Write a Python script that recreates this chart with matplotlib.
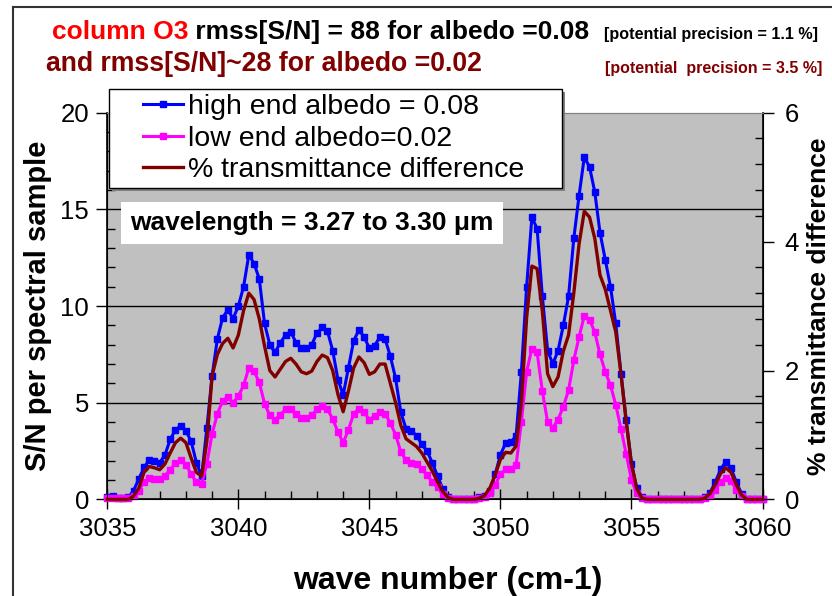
import numpy as np
import matplotlib.pyplot as plt
from matplotlib.lines import Line2D
from matplotlib.patches import Rectangle
from matplotlib.ticker import MultipleLocator

plt.rcParams['font.family'] = ['Liberation Sans', 'DejaVu Sans']

# wave number grid, 0.2 cm-1 steps from 3035 to 3060
wavenum = np.round(np.arange(3035.0, 3060.01, 0.2), 2)

# S/N per spectral sample, albedo = 0.08
sn_high = [
    0.10, 0.15, 0.05, 0.05, 0.10, 0.45, 1.05, 1.65, 2.04, 2.00,
    1.90, 2.30, 3.10, 3.60, 3.80, 3.55, 3.00, 1.90, 1.20, 3.70,
    6.40, 8.30, 9.40, 9.80, 9.35, 10.00, 11.00, 12.65, 12.20, 11.40,
    9.10, 8.00, 7.60, 8.10, 8.50, 8.68, 8.10, 7.82, 7.82, 8.00,
    8.60, 8.90, 8.70, 7.70, 6.20, 5.40, 6.80, 8.20, 8.76, 8.40,
    7.82, 7.95, 8.40, 8.30, 7.40, 6.26, 4.50, 3.65, 3.55, 3.30,
    2.85, 2.50, 1.90, 1.20, 0.55, 0.10, 0.00, 0.00, 0.00, 0.00,
    0.00, 0.10, 0.20, 0.45, 1.30, 2.30, 2.92, 2.95, 3.30, 6.60,
    11.00, 14.60, 14.00, 10.50, 7.70, 7.00, 7.70, 9.00, 10.50, 13.50,
    15.70, 17.70, 17.20, 15.90, 13.80, 12.40, 11.00, 9.10, 6.50, 4.10,
    1.85, 0.60, 0.10, 0.00, 0.00, 0.00, 0.00, 0.00, 0.00, 0.00,
    0.00, 0.00, 0.00, 0.00, 0.10, 0.35, 0.90, 1.55, 1.95, 1.60,
    0.90, 0.30, 0.00, 0.00, 0.00, 0.00,
]

# S/N per spectral sample, albedo = 0.02
sn_low = [
    0.05, 0.05, 0.05, 0.05, 0.05, 0.15, 0.45, 0.90, 1.09, 1.04,
    1.05, 1.22, 1.53, 1.90, 2.03, 1.80, 1.30, 0.88, 0.78, 1.85,
    3.40, 4.42, 5.10, 5.30, 5.00, 5.33, 5.90, 6.80, 6.62, 6.05,
    4.95, 4.35, 4.10, 4.38, 4.66, 4.70, 4.40, 4.20, 4.20, 4.35,
    4.65, 4.84, 4.67, 4.15, 3.50, 2.93, 3.60, 4.42, 4.70, 4.50,
    4.12, 4.30, 4.50, 4.42, 3.95, 3.35, 2.45, 2.02, 1.90, 1.82,
    1.55, 1.27, 0.90, 0.62, 0.28, 0.05, 0.00, 0.00, 0.00, 0.00,
    0.00, 0.05, 0.12, 0.35, 0.75, 1.30, 1.56, 1.56, 1.80, 4.00,
    6.60, 7.80, 7.60, 5.60, 4.00, 3.70, 4.13, 4.80, 5.65, 7.20,
    8.40, 9.50, 9.30, 8.65, 7.50, 6.60, 5.90, 4.90, 3.65, 2.35,
    1.00, 0.31, 0.05, 0.00, 0.00, 0.00, 0.00, 0.00, 0.00, 0.00,
    0.00, 0.00, 0.00, 0.00, 0.05, 0.20, 0.50, 0.90, 1.10, 0.95,
    0.50, 0.15, 0.00, 0.00, 0.00, 0.00,
]

# % transmittance difference (right axis)
trans_diff = [
    0.00, 0.00, 0.00, 0.00, 0.00, 0.05, 0.17, 0.42, 0.51, 0.49,
    0.46, 0.55, 0.72, 0.88, 0.95, 0.88, 0.64, 0.42, 0.36, 0.90,
    1.92, 2.25, 2.42, 2.50, 2.35, 2.55, 2.93, 3.20, 3.10, 2.80,
    2.38, 2.00, 1.90, 2.02, 2.14, 2.19, 2.10, 1.98, 1.95, 1.99,
    2.14, 2.24, 2.20, 2.00, 1.63, 1.36, 1.68, 2.04, 2.21, 2.12,
    1.94, 1.98, 2.10, 2.10, 1.80, 1.50, 1.15, 0.94, 0.88, 0.82,
    0.72, 0.58, 0.44, 0.27, 0.12, 0.03, 0.00, 0.00, 0.00, 0.00,
    0.00, 0.02, 0.06, 0.18, 0.38, 0.62, 0.73, 0.72, 0.83, 1.50,
    2.82, 3.62, 3.58, 2.92, 1.95, 1.75, 1.90, 2.30, 2.55, 3.20,
    3.96, 4.47, 4.38, 4.05, 3.48, 3.26, 2.93, 2.60, 1.95, 1.20,
    0.55, 0.17, 0.02, 0.00, 0.00, 0.00, 0.00, 0.00, 0.00, 0.00,
    0.00, 0.00, 0.00, 0.00, 0.02, 0.09, 0.23, 0.40, 0.49, 0.42,
    0.23, 0.07, 0.00, 0.00, 0.00, 0.00,
]

labels = ['high end albedo = 0.08', 'low end albedo=0.02',
          '% transmittance difference']

W, H = 832, 596
fig = plt.figure(figsize=(W / 100, H / 100), dpi=100)
fig.patch.set_facecolor('white')


def fx(px):
    return px / W


def fy(py):
    return 1 - py / H


ax = fig.add_axes([fx(107.3), fy(499.4), fx(762.5) - fx(107.3), fy(112.7) - fy(499.4)])
ax.set_facecolor('#C0C0C0')

l1, = ax.plot(wavenum, sn_high, color='#0000FF', lw=2.2, marker='s', ms=4.5,
              mec='#0000FF', mfc='#0000FF', clip_on=False, zorder=3)
l2, = ax.plot(wavenum, sn_low, color='#FF00FF', lw=2.2, marker='s', ms=4.5,
              mec='#FF00FF', mfc='#FF00FF', clip_on=False, zorder=4)

ax.set_xlim(3035, 3060)
ax.set_ylim(0, 20)
ax.xaxis.set_major_locator(MultipleLocator(5))
ax.xaxis.set_minor_locator(MultipleLocator(1))
ax.yaxis.set_major_locator(MultipleLocator(5))
ax.yaxis.set_minor_locator(MultipleLocator(1))
for v in (5, 10, 15):
    ax.axhline(v, color='black', lw=1, zorder=1)

ax.tick_params(axis='x', which='major', direction='inout', length=14, width=1,
               labelsize=18.5, pad=6)
ax.tick_params(axis='x', which='minor', direction='in', length=6, width=1)
ax.tick_params(axis='y', which='major', direction='out', length=8, width=1,
               labelsize=18.5, pad=5)
ax.tick_params(axis='y', which='minor', direction='in', length=6, width=1)
for s in ('left', 'bottom'):
    ax.spines[s].set_color('black')
    ax.spines[s].set_linewidth(1.2)
ax.spines['top'].set_color('#808080')
ax.spines['right'].set_color('black')

ax.set_xlabel('wave number (cm-1)', fontsize=23, fontweight='bold')
ax.xaxis.set_label_coords(0.519, -0.172)
ax.set_ylabel('S/N per spectral sample', fontsize=21, fontweight='bold', labelpad=6)

ax2 = ax.twinx()
l3, = ax2.plot(wavenum, trans_diff, color='#800000', lw=2.4, clip_on=False, zorder=5)
ax2.set_ylim(0, 6)
ax2.yaxis.set_major_locator(MultipleLocator(2))
ax2.yaxis.set_minor_locator(MultipleLocator(0.4))
ax2.tick_params(axis='y', which='major', direction='out', length=8, width=1,
                labelsize=18.5, pad=8)
ax2.tick_params(axis='y', which='minor', direction='in', length=6, width=1)
ax2.spines['right'].set_color('black')
ax2.spines['right'].set_linewidth(1.2)
ax2.spines['top'].set_color('#808080')
ax2.set_ylabel('% transmittance difference', fontsize=19, fontweight='bold',
               rotation=90, labelpad=6)

# legend box with drop shadow, then the entries on top of it
fig.add_artist(Rectangle((fx(112), fy(191)), fx(562) - fx(109), fy(89) - fy(188),
                         transform=fig.transFigure, facecolor='#808080',
                         edgecolor='none', zorder=3))
fig.add_artist(Rectangle((fx(109), fy(188)), fx(562) - fx(109), fy(89) - fy(188),
                         transform=fig.transFigure, facecolor='white',
                         edgecolor='black', lw=1, zorder=3))
fig.legend([l1, l2, l3], labels, loc='upper left',
           bbox_to_anchor=(fx(143), fy(94)), bbox_transform=fig.transFigure,
           fontsize=20.5, frameon=False, handlelength=1.4, handletextpad=0.18,
           labelspacing=0.2, borderpad=0, borderaxespad=0)

fig.text(fx(130), fy(223), 'wavelength = 3.27 to 3.30 \u03bcm', fontsize=19,
         fontweight='bold', va='center', ha='left',
         bbox=dict(facecolor='white', edgecolor='none', boxstyle='square,pad=0.35'))

# heading lines
t1 = fig.text(fx(52), fy(32), 'column O3', color='#FF0000', fontsize=19,
              fontweight='bold', va='center')
ax.annotate(' rmss[S/N] = 88 for albedo =0.08', xy=(1, 0.5), xycoords=t1,
            color='black', fontsize=19, fontweight='bold', va='center',
            ha='left', annotation_clip=False)
fig.text(fx(604), fy(34), '[potential precision = 1.1 %]', color='black',
         fontsize=11.6, fontweight='bold', va='center')
fig.text(fx(46), fy(64), 'and rmss[S/N]~28 for albedo =0.02', color='#800000',
         fontsize=19.2, fontweight='bold', va='center')
fig.text(fx(605), fy(68), '[potential  precision = 3.5 %]', color='#800000',
         fontsize=11.5, fontweight='bold', va='center')

# outer chart frame
fig.add_artist(Line2D([fx(13), fx(13)], [0, fy(7)], color='#333333', lw=1.5))
fig.add_artist(Line2D([fx(13), 1], [fy(7), fy(7)], color='#333333', lw=1.5))

fig.savefig('out.png', dpi=100)
